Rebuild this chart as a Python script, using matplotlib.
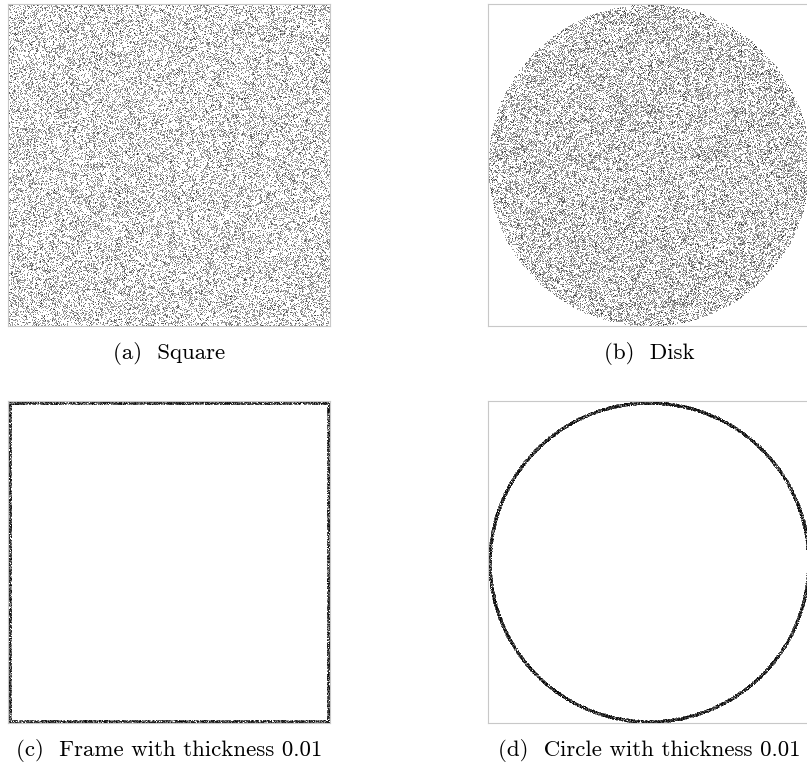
#!/usr/bin/env python3
"""Uniform point samples on four planar domains, shown as a 2x2 grid."""

import matplotlib

matplotlib.use("Agg")
import matplotlib.pyplot as plt  # noqa: E402
import numpy as np  # noqa: E402

# Domains, captions and sampling parameters
captions = ["(a)  Square", "(b)  Disk",
            "(c)  Frame with thickness 0.01", "(d)  Circle with thickness 0.01"]
n_points = [42000, 42000, 12000, 12000]
thickness = 0.01
seed = 7

rng = np.random.default_rng(seed)


def sample_square(n):
    return rng.random(n), rng.random(n)


def sample_disk(n):
    r = 0.5 * np.sqrt(rng.random(n))
    t = 2 * np.pi * rng.random(n)
    return 0.5 + r * np.cos(t), 0.5 + r * np.sin(t)


def sample_frame(n, w):
    # rejection sampling: the frame covers about 4w of the unit square
    x, y = rng.random(40 * n), rng.random(40 * n)
    keep = (x < w) | (x > 1 - w) | (y < w) | (y > 1 - w)
    return x[keep][:n], y[keep][:n]


def sample_ring(n, w):
    r = np.sqrt(rng.uniform((0.5 - w) ** 2, 0.25, n))
    t = 2 * np.pi * rng.random(n)
    return 0.5 + r * np.cos(t), 0.5 + r * np.sin(t)


samples = [
    sample_square(n_points[0]),
    sample_disk(n_points[1]),
    sample_frame(n_points[2], thickness),
    sample_ring(n_points[3], thickness),
]

fig = plt.figure(figsize=(8.07, 7.71), dpi=100)
W, H = 807, 771
size = 322
boxes = [(8, 4), (488, 4), (8, 401), (488, 401)]

for (px, py), (x, y), cap in zip(boxes, samples, captions):
    ax = fig.add_axes([px / W, (H - py - size) / H, size / W, size / H])
    ax.scatter(x, y, s=0.3, c="black", linewidths=0, alpha=0.5)
    ax.set_xlim(0, 1)
    ax.set_ylim(0, 1)
    ax.set_xticks([])
    ax.set_yticks([])
    for sp in ax.spines.values():
        sp.set_color("#c8c8c8")
        sp.set_linewidth(0.8)
    fig.text((px + size / 2) / W, (H - py - size - 27) / H, cap,
             ha="center", va="center", fontsize=16.5, family="cmr10")

fig.savefig("out.png", dpi=100)
